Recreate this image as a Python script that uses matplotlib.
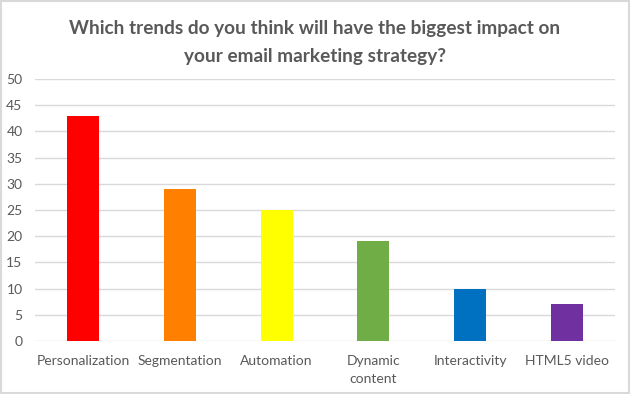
import matplotlib

matplotlib.use("Agg")
import matplotlib.pyplot as plt

categories = ["Personalization", "Segmentation", "Automation", "Dynamic\ncontent",
              "Interactivity", "HTML5 video"]
values = [43, 29, 25, 19, 10, 7]
colors = ["#ff0000", "#ff8000", "#ffff00", "#70ad47", "#0070c0", "#7030a0"]
y_ticks = list(range(0, 51, 5))

plt.rcParams["font.family"] = ["Lato", "DejaVu Sans"]

fig = plt.figure(figsize=(6.3, 3.94), dpi=100)
fig.patch.set_facecolor("white")
ax = fig.add_axes([0.0556, 0.1345, 0.9206, 0.665])

x = range(len(categories))
ax.bar(x, values, width=0.33, color=colors, zorder=3)

ax.set_xlim(-0.5, len(categories) - 0.5)
ax.set_ylim(0, 50)
ax.set_yticks(y_ticks)
ax.grid(axis="y", color="#d9d9d9", linewidth=1, zorder=0)
for spine in ax.spines.values():
    spine.set_visible(False)
ax.tick_params(axis="both", length=0, labelsize=10, colors="#595959")
ax.tick_params(axis="y", pad=9)
ax.tick_params(axis="x", pad=10)
ax.set_xticks(list(x))
ax.set_xticklabels(categories, va="top", linespacing=1.6)

fig.text(0.5, 0.892, "Which trends do you think will have the biggest impact on\nyour email marketing strategy?",
         ha="center", va="center", fontsize=13.7, fontweight="bold", color="#595959", linespacing=1.8)

# light border around the chart area
border = plt.Rectangle((0.001, 0.002), 0.997, 0.995, transform=fig.transFigure,
                       fill=False, edgecolor="#d9d9d9", linewidth=1.5)
fig.patches.append(border)

fig.savefig("out.png", dpi=100, facecolor=fig.get_facecolor())
